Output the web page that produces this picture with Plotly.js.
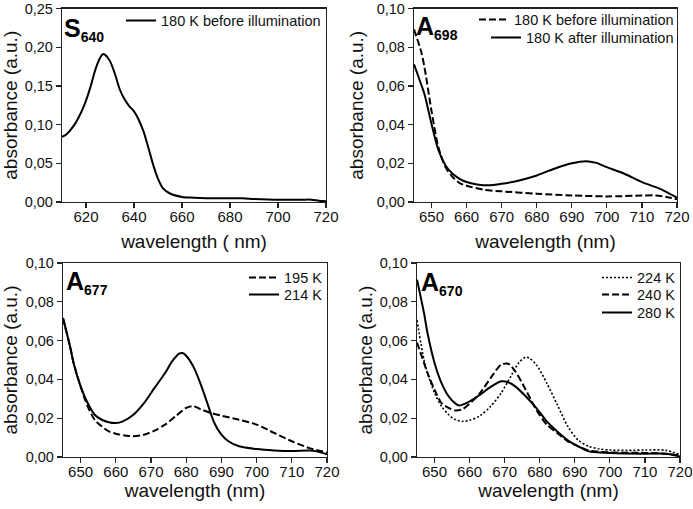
<!DOCTYPE html>
<html>
<head>
<meta charset="utf-8">
<script src="https://cdn.plot.ly/plotly-3.0.1.min.js"></script>
<style>html,body{margin:0;padding:0;background:#fff;}#chart{width:693px;height:509px;}</style>
</head>
<body>
<div id="chart"></div>
<script>
// Panel S640
const s640_wl  = [610,612,615,618,620,622,624,626,627,628,630,632,634,636,638,640,642,644,646,648,650,652,655,660,665,670,680,685,690,700,710,714,717,720];
const s640_abs = [0.084,0.088,0.099,0.116,0.131,0.150,0.172,0.187,0.191,0.190,0.182,0.166,0.146,0.133,0.124,0.117,0.106,0.091,0.070,0.048,0.030,0.018,0.011,0.0066,0.0056,0.005,0.0047,0.0047,0.004,0.003,0.003,0.003,0.0017,0.001];

// Panel A698
const a698_before_wl  = [645,647,648,650,652,654,656,658,660,665,670,680,690,700,710,714,717,720];
const a698_before_abs = [0.0892,0.078,0.0695,0.047,0.028,0.018,0.0129,0.0098,0.0084,0.0063,0.0055,0.0043,0.0034,0.0029,0.0033,0.0034,0.0026,0.0014];
const a698_after_wl   = [645,647,648,650,652,654,656,658,660,663,666,670,675,680,685,690,694,697,700,705,710,715,720];
const a698_after_abs  = [0.0712,0.061,0.0557,0.0403,0.0266,0.0189,0.0146,0.012,0.0103,0.0091,0.0086,0.0094,0.0111,0.0137,0.0172,0.020,0.0211,0.0202,0.018,0.0146,0.0103,0.0069,0.0022];

// Panel A677
const a677_195_wl  = [645,647,648,650,652,654,656,658,660,663,665,668,671,674,677,680,682,684,687,690,695,700,705,710,715,720];
const a677_195_abs = [0.0716,0.057,0.0485,0.0364,0.0261,0.0192,0.0158,0.0132,0.012,0.011,0.0107,0.0115,0.0136,0.0167,0.021,0.0253,0.0262,0.0247,0.0227,0.0213,0.0192,0.0167,0.0124,0.0081,0.0046,0.0024];
const a677_214_wl  = [645,647,648,650,652,654,656,658,660,662,665,668,671,674,676,678,679,680,682,684,686,688,690,692,695,700,705,710,715,717,720];
const a677_214_abs = [0.0716,0.057,0.0485,0.0364,0.0278,0.0218,0.0192,0.0179,0.0175,0.0184,0.0218,0.0278,0.0356,0.0433,0.0493,0.0533,0.0536,0.0522,0.0467,0.0381,0.0278,0.0175,0.0115,0.0081,0.0055,0.0041,0.0034,0.0031,0.0033,0.0029,0.0014];

// Panel A670
const a670_224_wl  = [645,647,648,650,652,654,656,658,660,663,666,669,672,674,676,677,679,682,685,688,691,694,697,700,705,710,716,720];
const a670_224_abs = [0.0705,0.050,0.0433,0.033,0.0261,0.0218,0.0192,0.0184,0.0189,0.0213,0.0261,0.033,0.0424,0.0485,0.0515,0.051,0.0476,0.0381,0.027,0.0158,0.0086,0.0055,0.0041,0.0036,0.0034,0.0036,0.0034,0.0012];
const a670_240_wl  = [645,647,648,650,652,654,656,658,660,663,666,669,671,673,676,679,682,685,688,691,694,700,710,716,720];
const a670_240_abs = [0.059,0.0485,0.0433,0.0347,0.0278,0.0253,0.024,0.0247,0.0275,0.033,0.0407,0.0476,0.0481,0.0442,0.0347,0.0244,0.0167,0.0124,0.0081,0.0055,0.0033,0.0024,0.0021,0.0017,0.0007];
const a670_280_wl  = [645,647,648,650,652,654,656,657,658,660,663,666,669,671,673,676,679,682,685,688,691,694,700,710,716,720];
const a670_280_abs = [0.0914,0.0742,0.0639,0.0485,0.0381,0.0313,0.0275,0.0265,0.027,0.0287,0.0321,0.0361,0.039,0.0385,0.0364,0.0313,0.0253,0.0184,0.0132,0.0086,0.0055,0.0029,0.0021,0.0017,0.0017,0.0003];

// Tick labels
const x1_ticks = [620,640,660,680,700,720];
const x_ticks  = [650,660,670,680,690,700,710,720];
const y1_ticks = [0,0.05,0.10,0.15,0.20,0.25];
const y_ticks  = [0,0.02,0.04,0.06,0.08,0.10];

const FONT = 'Liberation Sans, Arial, sans-serif';
const W = 693, H = 509;
const px = v => v / W;
const py = v => 1 - v / H;

function tr(x, y, name, dash, xa, ya, leg, width) {
  return {x: x, y: y, name: name, type: 'scatter', mode: 'lines',
    line: {color: '#000', width: width || 2, dash: dash, shape: 'spline', smoothing: 0.8},
    xaxis: xa, yaxis: ya, legend: leg, hoverinfo: 'skip'};
}

const DASH = '7px,3px';
const DOT = '2px,2px';

const data = [
  tr(s640_wl, s640_abs, '180 K before illumination', 'solid', 'x', 'y', 'legend'),
  tr(a698_before_wl, a698_before_abs, '180 K before illumination', DASH, 'x2', 'y2', 'legend2'),
  tr(a698_after_wl, a698_after_abs, '180 K after illumination', 'solid', 'x2', 'y2', 'legend3'),
  tr(a677_195_wl, a677_195_abs, '195 K', DASH, 'x3', 'y3', 'legend4'),
  tr(a677_214_wl, a677_214_abs, '214 K', 'solid', 'x3', 'y3', 'legend5'),
  tr(a670_224_wl, a670_224_abs, '224 K', DOT, 'x4', 'y4', 'legend6', 1.6),
  tr(a670_240_wl, a670_240_abs, '240 K', DASH, 'x4', 'y4', 'legend7'),
  tr(a670_280_wl, a670_280_abs, '280 K', 'solid', 'x4', 'y4', 'legend8')
];

function xax(dom, range, ticks, title, anchor, standoff) {
  return {domain: dom, range: range, tickvals: ticks, tickformat: 'd', anchor: anchor,
    showgrid: false, zeroline: false, showline: true, mirror: true, linecolor: '#222', linewidth: 1.2,
    ticks: 'outside', ticklen: 5, tickwidth: 1.2, tickcolor: '#222', ticklabelstandoff: -4,
    ticklabeloverflow: 'allow',
    tickfont: {family: FONT, size: 15, color: '#111'},
    title: {text: title, font: {family: FONT, size: 19, color: '#111'}, standoff: standoff},
    automargin: false, fixedrange: true};
}
function yax(dom, range, ticks, title, anchor, standoff) {
  return {domain: dom, range: range, tickvals: ticks, tickformat: '.2f', anchor: anchor,
    showgrid: false, zeroline: false, showline: true, mirror: true, linecolor: '#222', linewidth: 1.2,
    ticks: 'outside', ticklen: 5, tickwidth: 1.2, tickcolor: '#222',
    ticklabeloverflow: 'allow',
    tickfont: {family: FONT, size: 14.5, color: '#111'},
    title: {text: title, font: {family: FONT, size: 19, color: '#111'}, standoff: standoff},
    automargin: false, fixedrange: true};
}

// legend placed by right edge (px) and row centre (px)
function leg(xr, yc) {
  return {x: px(xr), y: py(yc - 15.5), xref: 'paper', yref: 'paper', xanchor: 'right', yanchor: 'top',
    bgcolor: 'rgba(0,0,0,0)', borderwidth: 0, font: {family: FONT, size: 14.5, color: '#111'},
    itemwidth: 30, tracegroupgap: 0, traceorder: 'normal'};
}

function lab(big, sub, x, y) {
  return {text: '<b>' + big + '<sub><span style="font-size:14px">' + sub + '</span></sub></b>',
    x: px(x), y: py(y), xref: 'paper', yref: 'paper', xanchor: 'left', yanchor: 'top',
    showarrow: false, font: {family: FONT, size: 25, color: '#000'}};
}

const layout = {
  width: W, height: H,
  margin: {l: 0, r: 0, t: 0, b: 0},
  paper_bgcolor: '#fff', plot_bgcolor: '#fff',
  separators: ', ',
  font: {family: FONT, color: '#111'},
  xaxis:  xax([px(62), px(326)], [610, 720], x1_ticks, 'wavelength ( nm)', 'y', 10),
  yaxis:  yax([py(202), py(8.5)], [0, 0.25], y1_ticks, 'absorbance (a.u.)', 'x', 9),
  xaxis2: xax([px(414), px(677)], [645, 720], x_ticks, 'wavelength (nm)', 'y2', 10),
  yaxis2: yax([py(202), py(8.5)], [0, 0.10], y_ticks, 'absorbance (a.u.)', 'x2', 8),
  xaxis3: xax([px(63), px(327)], [645, 720], x_ticks, 'wavelength (nm)', 'y3', 2),
  yaxis3: yax([py(457), py(263)], [0, 0.10], y_ticks, 'absorbance (a.u.)', 'x3', 7),
  xaxis4: xax([px(417), px(680)], [645, 720], x_ticks, 'wavelength (nm)', 'y4', 2),
  yaxis4: yax([py(457), py(263)], [0, 0.10], y_ticks, 'absorbance (a.u.)', 'x4', 2),
  legend:  leg(326, 20),
  legend2: leg(679, 19),
  legend3: leg(679, 37),
  legend4: leg(328, 277),
  legend5: leg(328, 294),
  legend6: leg(681, 277),
  legend7: leg(681, 294),
  legend8: leg(681, 312),
  showlegend: true,
  annotations: [
    lab('S', '640', 62, 12),
    lab('A', '698', 414, 10),
    lab('A', '677', 64, 265),
    lab('A', '670', 419, 266)
  ]
};

Plotly.newPlot('chart', data, layout, {staticPlot: true, displayModeBar: false});
</script>
</body>
</html>
